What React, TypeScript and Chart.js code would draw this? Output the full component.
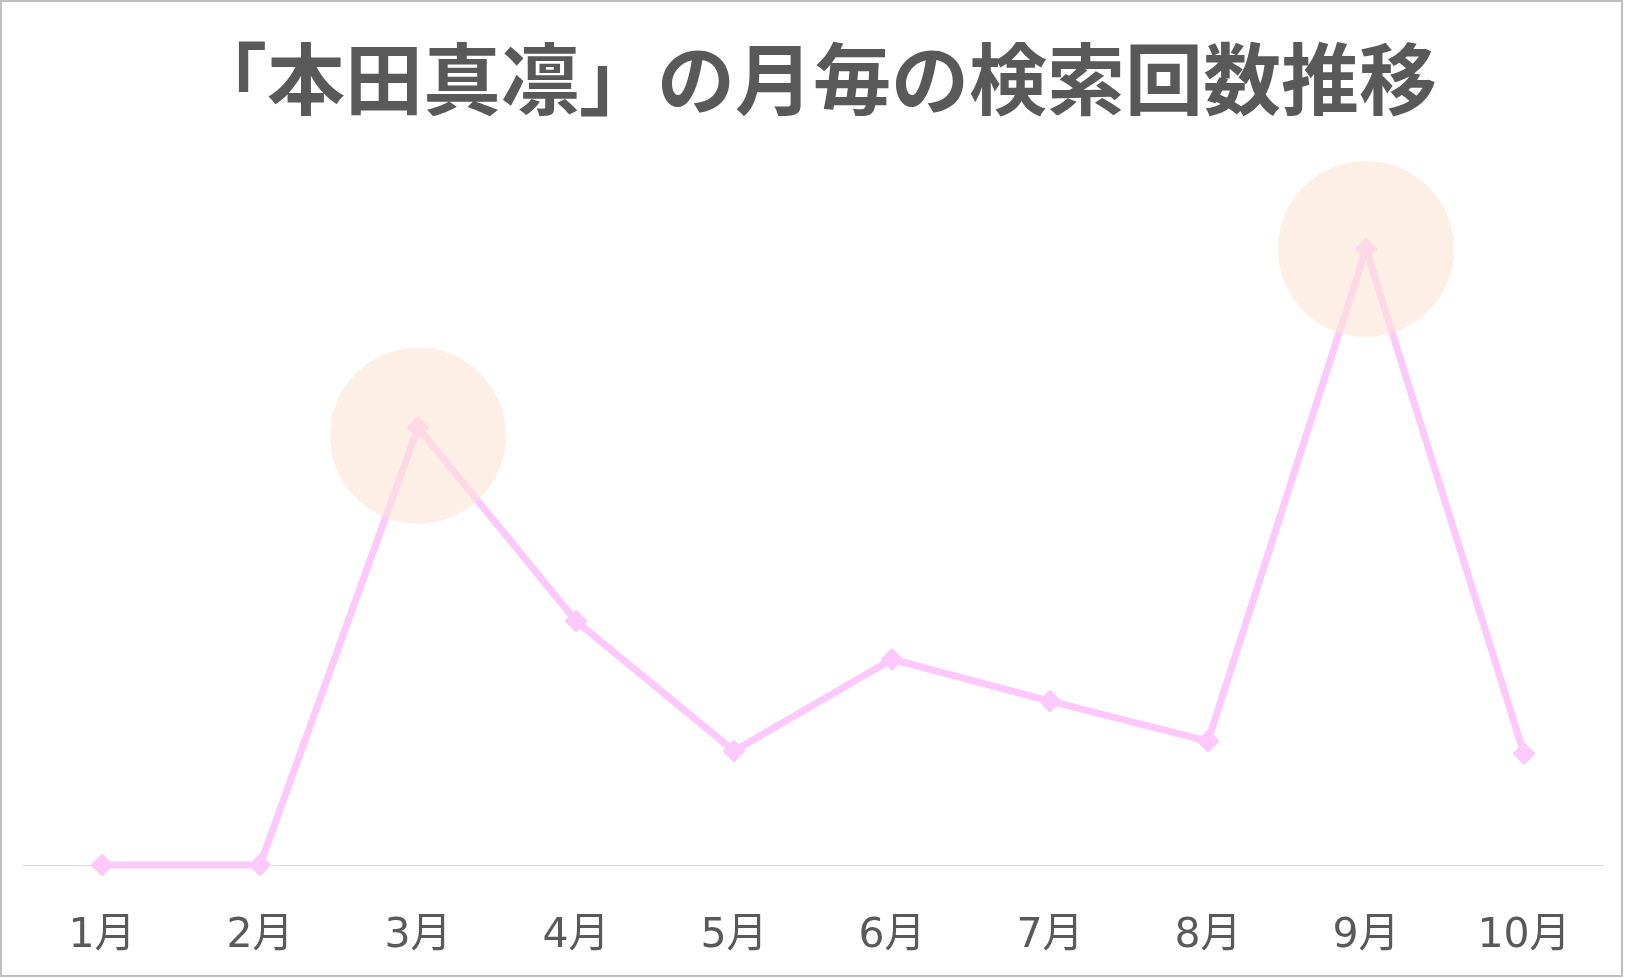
import React, { useEffect, useRef } from "react";
import { Chart, registerables } from "chart.js";

Chart.register(...registerables);

const TITLE = "「本田真凛」の月毎の検索回数推移";
const MONTHS = ["1月", "2月", "3月", "4月", "5月", "6月", "7月", "8月", "9月", "10月"];
const SEARCH_VALUES = [0, 0, 71, 39.6, 18.5, 33.4, 26.6, 20.1, 100, 18.1];
const HIGHLIGHT_VALUES = [null, null, 69.7, null, null, null, null, null, 100, null];
const Y_MAX = 115;

const LINE_COLOR = "#FDC9FD";
const HIGHLIGHT_COLOR = "rgba(251, 229, 214, 0.6)";
const TEXT_COLOR = "#595959";

const roundJoinPlugin = {
  id: "roundJoin",
  beforeDatasetsDraw(chart: any) {
    chart.ctx.lineJoin = "round";
  },
};

export default function App() {
  const canvasRef = useRef<HTMLCanvasElement | null>(null);

  useEffect(() => {
    document.body.style.margin = "0";
    const canvas = canvasRef.current;
    if (!canvas) return;
    const chart = new Chart(canvas, {
      type: "line",
      data: {
        labels: MONTHS,
        datasets: [
          {
            label: "highlight",
            data: HIGHLIGHT_VALUES as any,
            showLine: false,
            pointRadius: 88,
            pointHoverRadius: 88,
            pointBackgroundColor: HIGHLIGHT_COLOR,
            pointBorderWidth: 0,
            pointBorderColor: "rgba(0,0,0,0)",
            clip: false as any,
          },
          {
            label: "検索回数",
            data: SEARCH_VALUES,
            borderColor: LINE_COLOR,
            backgroundColor: LINE_COLOR,
            borderWidth: 7,
            borderJoinStyle: "round",
            borderCapStyle: "round",
            pointStyle: "rectRot",
            pointRadius: 9.5,
            pointHoverRadius: 9.5,
            pointBackgroundColor: LINE_COLOR,
            pointBorderColor: LINE_COLOR,
            pointBorderWidth: 3,
            tension: 0,
            clip: false as any,
          },
        ],
      },
      options: {
        animation: false,
        responsive: false,
        maintainAspectRatio: false,
        events: [],
        layout: { autoPadding: false, padding: { left: 21, right: 18, top: 0, bottom: 0 } },
        plugins: {
          legend: { display: false },
          tooltip: { enabled: false },
          title: {
            display: true,
            text: TITLE,
            color: TEXT_COLOR,
            font: { family: '"Noto Sans CJK JP", sans-serif', size: 78, weight: "bold", lineHeight: 1.2 },
            padding: { top: 31, bottom: 30 },
          },
        },
        scales: {
          x: {
            offset: true,
            grid: { display: false, drawTicks: false },
            border: { display: true, color: "#D9D9D9", width: 1 },
            ticks: {
              color: TEXT_COLOR,
              padding: 47,
              font: { family: '"DejaVu Sans", "Noto Sans CJK JP", sans-serif', size: 41 },
              maxRotation: 0,
              autoSkip: false,
            },
            afterFit(scale: any) {
              scale.height = 110;
            },
          },
          y: {
            display: false,
            min: 0,
            max: Y_MAX,
          },
        },
      },
      plugins: [roundJoinPlugin],
    });
    return () => chart.destroy();
  }, []);

  return (
    <div
      style={{
        position: "relative",
        width: 1623,
        height: 977,
        boxSizing: "border-box",
        border: "2px solid #BFBFBF",
        background: "#FFFFFF",
      }}
    >
      <canvas ref={canvasRef} width={1619} height={973} style={{ display: "block" }} />
    </div>
  );
}
